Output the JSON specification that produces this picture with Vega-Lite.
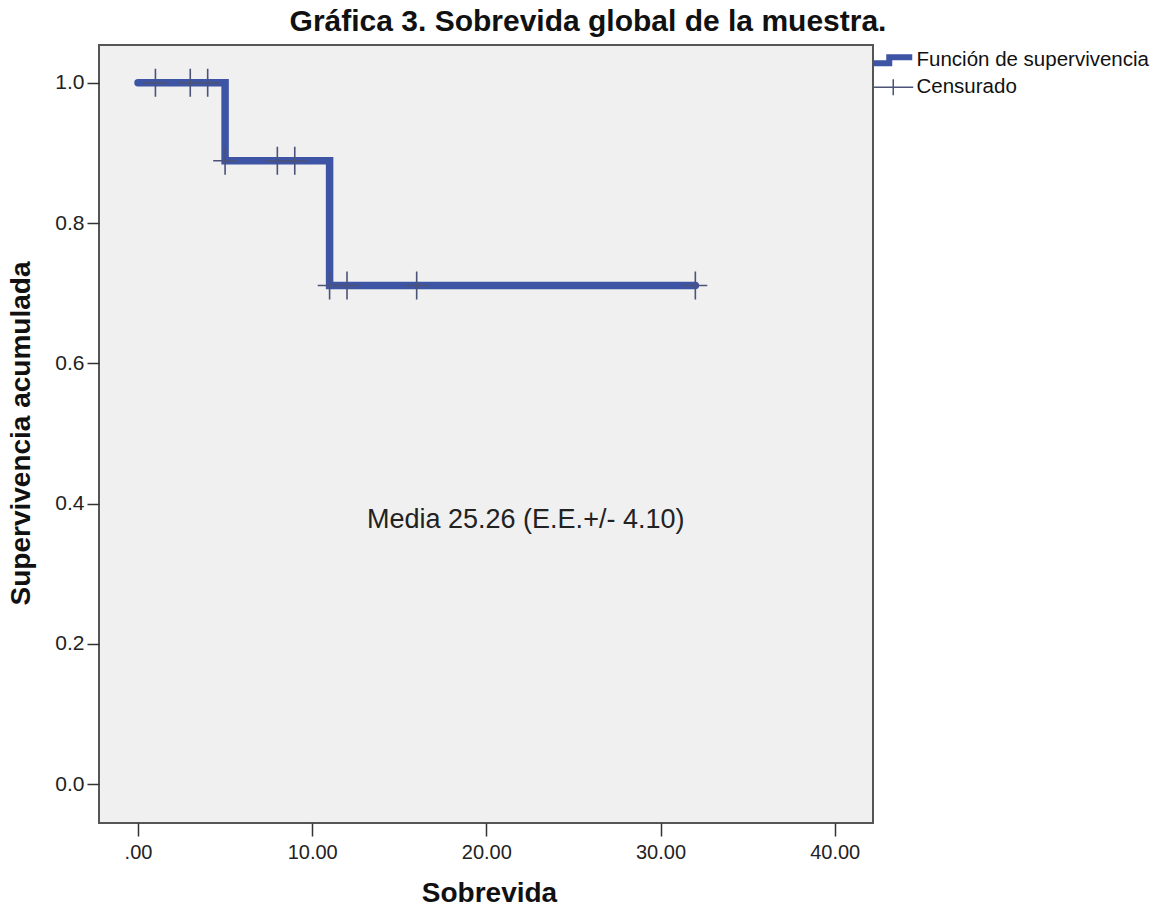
{
  "$schema": "https://vega.github.io/schema/vega-lite/v6.json",
  "autosize": {"type": "none"},
  "padding": {"left": 99, "top": 45, "right": 287, "bottom": 84},
  "width": 774,
  "height": 778,
  "background": "white",
  "config": {
    "font": "Liberation Sans",
    "view": {"fill": "#F0F0F0", "stroke": "#555555", "strokeWidth": 2},
    "axis": {
      "grid": false,
      "domain": false,
      "tickColor": "#333333",
      "tickWidth": 1.5,
      "labelFont": "Liberation Sans",
      "labelColor": "#222222",
      "labelFontSize": 20,
      "titleFont": "Liberation Sans",
      "titleFontWeight": "bold",
      "titleColor": "#111111",
      "titleFontSize": 28
    }
  },
  "title": {
    "text": "Gráfica 3. Sobrevida global de la muestra.",
    "font": "Liberation Sans",
    "fontSize": 30,
    "fontWeight": "bold",
    "color": "#111111",
    "anchor": "middle",
    "frame": "group",
    "dx": 102,
    "dy": 28,
    "offset": 12,
    "baseline": "alphabetic"
  },
  "datasets": {
    "curve": [
      {"tiempo": 0, "supervivencia": 1.0, "serie": "Función de supervivencia"},
      {"tiempo": 5, "supervivencia": 0.8889, "serie": "Función de supervivencia"},
      {"tiempo": 11, "supervivencia": 0.7111, "serie": "Función de supervivencia"},
      {"tiempo": 32, "supervivencia": 0.7111, "serie": "Función de supervivencia"}
    ],
    "censored": [
      {"tiempo": 1, "supervivencia": 1.0, "serie": "Censurado"},
      {"tiempo": 3, "supervivencia": 1.0, "serie": "Censurado"},
      {"tiempo": 4, "supervivencia": 1.0, "serie": "Censurado"},
      {"tiempo": 5, "supervivencia": 0.8889, "serie": "Censurado"},
      {"tiempo": 8, "supervivencia": 0.8889, "serie": "Censurado"},
      {"tiempo": 9, "supervivencia": 0.8889, "serie": "Censurado"},
      {"tiempo": 11, "supervivencia": 0.7111, "serie": "Censurado"},
      {"tiempo": 12, "supervivencia": 0.7111, "serie": "Censurado"},
      {"tiempo": 16, "supervivencia": 0.7111, "serie": "Censurado"},
      {"tiempo": 32, "supervivencia": 0.7111, "serie": "Censurado"}
    ],
    "nota": [
      {"tiempo": 22.26, "supervivencia": 0.377, "texto": "Media 25.26 (E.E.+/- 4.10)"}
    ]
  },
  "encoding": {
    "x": {
      "field": "tiempo",
      "type": "quantitative",
      "scale": {"domain": [-2.24, 42.2], "nice": false, "zero": false},
      "axis": {
        "values": [0, 10, 20, 30, 40],
        "tickSize": 13,
        "labelPadding": 6,
        "labelExpr": "datum.value === 0 ? '.00' : format(datum.value, '.2f')",
        "title": "Sobrevida",
        "titleX": 390,
        "titleY": 78,
        "titleAlign": "center",
        "titleBaseline": "alphabetic"
      }
    },
    "y": {
      "field": "supervivencia",
      "type": "quantitative",
      "scale": {"domain": [-0.0556, 1.054], "nice": false, "zero": false},
      "axis": {
        "values": [0, 0.2, 0.4, 0.6, 0.8, 1.0],
        "format": ".1f",
        "tickSize": 12,
        "labelPadding": 3,
        "labelFontSize": 21,
        "title": "Supervivencia acumulada",
        "titleX": -78,
        "titleY": 388,
        "titleAngle": -90,
        "titleAlign": "center",
        "titleBaseline": "middle"
      }
    }
  },
  "layer": [
    {
      "data": {"name": "curve"},
      "mark": {"type": "line", "interpolate": "step-after", "strokeWidth": 7.5, "strokeCap": "round", "strokeJoin": "miter"},
      "encoding": {
        "color": {
          "field": "serie",
          "type": "nominal",
          "scale": {"domain": ["Función de supervivencia", "Censurado"], "range": ["#3E55A5", "#4B5378"]},
          "legend": {
            "title": null,
            "orient": "none",
            "legendX": 784,
            "legendY": 5,
            "padding": 0,
            "rowPadding": 0,
            "symbolSize": 400,
            "labelFont": "Liberation Sans",
            "labelFontSize": 20.5,
            "labelColor": "#111111",
            "labelOffset": 13,
            "labelLimit": 400,
            "encode": {
              "symbols": {
                "update": {
                  "shape": {"signal": "datum.value === 'Censurado' ? 'M-1,0H1M0,-0.4V0.4' : 'M-1,0.15H-0.2V-0.15H0.95'"},
                  "strokeWidth": {"signal": "datum.value === 'Censurado' ? 1.5 : 6"},
                  "size": {"value": 1600},
                  "fill": {"value": "transparent"},
                  "opacity": {"value": 1}
                }
              }
            }
          }
        }
      }
    },
    {
      "data": {"name": "censored"},
      "mark": {"type": "point", "filled": false, "size": 784, "strokeWidth": 1.6, "opacity": 1, "shape": "M-0.85,0H0.85M0,-1V1"},
      "encoding": {
        "color": {"field": "serie", "type": "nominal"}
      }
    },
    {
      "data": {"name": "nota"},
      "mark": {"type": "text", "fontSize": 27, "font": "Liberation Sans", "color": "#222222", "align": "center", "baseline": "middle"},
      "encoding": {
        "text": {"field": "texto", "type": "nominal"}
      }
    }
  ]
}
